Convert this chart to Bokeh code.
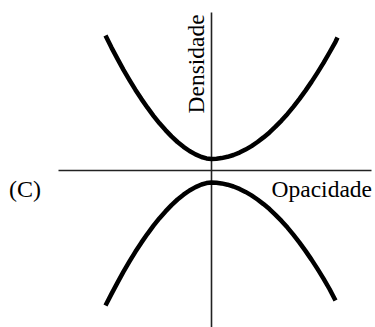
from bokeh.plotting import figure
from bokeh.models import Range1d
from bokeh.embed import file_html
from bokeh.resources import INLINE
from bokeh.core.properties import value

# Upper curve (Opacidade vs Densidade)
opac_sup = [-106, -100, -94, -88, -82, -76, -70, -64, -58, -52, -46, -40, -34, -28, -22, -16, -10, -5, 0,
            5, 10, 16, 22, 28, 34, 40, 46, 52, 58, 64, 70, 76, 82, 88, 94, 100, 106, 112, 118, 124, 126]
dens_sup = [135, 122.9, 111.6, 100.7, 90.4, 80.6, 71.4, 62.8, 54.7, 47.2, 40.4, 34.1, 28.5, 23.7, 19.5, 16.1, 13.5, 12.1, 11.5,
            11.7, 12.4, 13.7, 15.5, 17.9, 20.9, 24.4, 28.5, 33.1, 38.1, 43.8, 49.9, 56.6, 63.9, 71.6, 79.9, 88.6, 97.9, 107.6, 118, 128.7, 133]

# Lower curve
opac_inf = [-106, -100, -94, -88, -82, -76, -70, -64, -58, -52, -46, -40, -34, -28, -22, -16, -10, -5, 0,
            5, 10, 16, 22, 28, 34, 40, 46, 52, 58, 64, 70, 76, 82, 88, 94, 100, 106, 112, 118, 124]
dens_inf = [-135, -123.4, -112.1, -101.2, -90.9, -81.1, -71.9, -63.3, -55.2, -47.7, -40.9, -34.6, -29, -24.2, -20, -16.6, -14, -12.6, -12,
            -12.2, -12.9, -14.2, -16, -18.4, -21.4, -24.9, -29, -33.6, -38.6, -44.3, -50.4, -57.1, -64.4, -72.1, -80.4, -89.1, -98.4, -108.1, -118.5, -130]

# Axes extents
eixo_h_x = [-153, 160]
eixo_h_y = [0, 0]
eixo_v_x = [0, 0]
eixo_v_y = [158, -157]

rotulo_x = "Opacidade"
rotulo_y = "Densidade"
painel = "(C)"

p = figure(width=375, height=327, output_backend="svg", toolbar_location=None,
           x_range=Range1d(-211, 164), y_range=Range1d(-157, 170),
           x_axis_type=None, y_axis_type=None, min_border=0)
p.outline_line_color = None
p.xgrid.visible = False
p.ygrid.visible = False
p.background_fill_color = "white"
p.border_fill_color = "white"

p.line(eixo_h_x, eixo_h_y, line_color="#222222", line_width=1.6)
p.line(eixo_v_x, eixo_v_y, line_color="#222222", line_width=1.6)

p.line(opac_sup, dens_sup, line_color="black", line_width=4.5, line_join="round")
p.line(opac_inf, dens_inf, line_color="black", line_width=4.5, line_join="round")

fnt = value("Liberation Serif")
p.text(x=[160.5], y=[-18], text=[rotulo_x], text_font=fnt, text_font_size="23.5px",
       text_align="right", text_baseline="alphabetic", text_color="black")
p.text(x=[-202.5], y=[-18], text=[painel], text_font=fnt, text_font_size="24px",
       text_align="left", text_baseline="alphabetic", text_color="black")
p.text(x=[-15.5], y=[57], text=[rotulo_y], text_font=fnt, text_font_size="23.5px",
       text_align="left", text_baseline="alphabetic", angle=1.5707963, text_color="black")

open("out.html", "w").write(file_html(p, INLINE))
